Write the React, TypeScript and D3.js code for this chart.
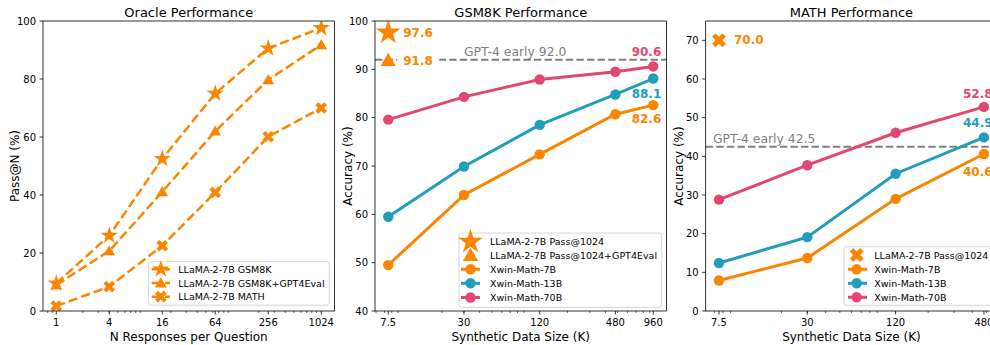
import React from 'react';
import * as d3 from 'd3';

// ---------- data ----------
const oracleN = [1, 4, 16, 64, 256, 1024];
const oracleTickLabels = ['1', '4', '16', '64', '256', '1024'];
const oracleGsm8k = [9.5, 26, 52.5, 75, 90.6, 97.6];
const oracleGsm8kGpt4 = [9.0, 20.7, 41.1, 62.0, 79.7, 91.8];
const oracleMath = [1.7, 8.4, 22.5, 40.9, 60.1, 70.0];
const oracleYTicks = [0, 20, 40, 60, 80, 100];

const gsmSizes = [7.5, 30, 120, 480, 960];
const gsmTickLabels = ['7.5', '30', '120', '480', '960'];
const gsm7b = [49.5, 64.0, 72.4, 80.7, 82.6];
const gsm13b = [59.5, 69.9, 78.5, 84.8, 88.1];
const gsm70b = [79.6, 84.3, 87.9, 89.5, 90.6];
const gsmPass1024 = 97.6;
const gsmPass1024Eval = 91.8;
const gsmGpt4 = 92.0;
const gsmYTicks = [40, 50, 60, 70, 80, 90, 100];

const mathSizes = [7.5, 30, 120, 480];
const mathTickLabels = ['7.5', '30', '120', '480'];
const math7b = [7.9, 13.7, 29.0, 40.6];
const math13b = [12.4, 19.1, 35.5, 44.9];
const math70b = [28.8, 37.7, 46.1, 52.8];
const mathPass1024 = 70.0;
const mathGpt4 = 42.5;
const mathYTicks = [0, 10, 20, 30, 40, 50, 60, 70];

// ---------- style ----------
const ORANGE = '#fb8500';
const TEAL = '#219ebc';
const PINK = '#e2486f';
const GRAY = '#7f7f7f';
const FONT = 'DejaVu Sans';
const TOP = 21;
const BOTTOM = 311;
const PW = 291.5;

function logX(xs: number[], left: number) {
  const lo = d3.min(xs)!;
  const hi = d3.max(xs)!;
  const m = 0.05 * Math.log2(hi / lo);
  return d3.scaleLog().base(2).domain([lo * Math.pow(2, -m), hi * Math.pow(2, m)]).range([left, left + PW]);
}

function minorTicks(domain: number[]) {
  const out: number[] = [];
  for (let k = -2; k <= 4; k++) {
    for (let s = 2; s <= 9; s++) {
      const v = s * Math.pow(10, k);
      if (v >= domain[0] && v <= domain[1]) out.push(v);
    }
  }
  return out;
}

function sym(type: any, size: number) {
  return d3.symbol().type(type).size(size)()!;
}

function Marker({ kind, x, y, color, size }: any) {
  if (kind === 'star') return <path d={sym(d3.symbolStar, size)} transform={`translate(${x},${y})`} fill={color} />;
  if (kind === 'tri') return <path d={sym(d3.symbolTriangle, size)} transform={`translate(${x},${y + 1})`} fill={color} />;
  if (kind === 'x') return <path d={sym(d3.symbolCross, size)} transform={`translate(${x},${y}) rotate(45)`} fill={color} />;
  return <circle cx={x} cy={y} r={Math.sqrt(size / Math.PI)} fill={color} />;
}

function Frame({ x, y, title, xLabel, yLabel, yLabelX, ticks, tickLabels, yTicks, clipId, children }: any) {
  const [l, r] = x.range();
  const dom = x.domain();
  return (
    <g>
      <defs>
        <clipPath id={clipId}>
          <rect x={l} y={TOP} width={r - l} height={BOTTOM - TOP} />
        </clipPath>
      </defs>
      <g clipPath={`url(#${clipId})`}>{children}</g>
      <rect x={l} y={TOP} width={r - l} height={BOTTOM - TOP} fill="none" stroke="#000" strokeWidth={0.8} />
      {yTicks.map((t: number) => (
        <g key={'y' + t}>
          <line x1={l - 3.5} x2={l} y1={y(t)} y2={y(t)} stroke="#000" strokeWidth={0.8} />
          <text x={l - 7} y={y(t)} textAnchor="end" dominantBaseline="central" fontSize={10} fontFamily={FONT}>{t}</text>
        </g>
      ))}
      {minorTicks(dom).map((t: number) => (
        <line key={'m' + t} x1={x(t)} x2={x(t)} y1={BOTTOM} y2={BOTTOM + 2} stroke="#000" strokeWidth={0.6} />
      ))}
      {ticks.map((t: number, i: number) => (
        <g key={'x' + t}>
          <line x1={x(t)} x2={x(t)} y1={BOTTOM} y2={BOTTOM + 3.5} stroke="#000" strokeWidth={0.8} />
          <text x={x(t)} y={326} textAnchor="middle" fontSize={10} fontFamily={FONT}>{tickLabels[i]}</text>
        </g>
      ))}
      <text x={(l + r) / 2} y={17} textAnchor="middle" fontSize={13} fontFamily={FONT}>{title}</text>
      <text x={(l + r) / 2} y={340.5} textAnchor="middle" fontSize={12} fontFamily={FONT}>{xLabel}</text>
      <text transform={`translate(${yLabelX},${(TOP + BOTTOM) / 2}) rotate(-90)`} textAnchor="middle" dominantBaseline="central" fontSize={12} fontFamily={FONT}>{yLabel}</text>
    </g>
  );
}

function Legend({ x, y, w, h, items, lineX1, lineX2, markX, textX, rows }: any) {
  return (
    <g>
      <rect x={x} y={y} width={w} height={h} rx={2.5} fill="#fff" fillOpacity={0.8} stroke="#cccccc" strokeWidth={0.8} />
      {items.map((it: any, i: number) => (
        <g key={i}>
          {it.line && (
            <line x1={lineX1} x2={lineX2} y1={rows[i]} y2={rows[i]} stroke={it.color} strokeWidth={it.dash ? 2.5 : 3} strokeDasharray={it.dash ? '9.25 4' : undefined} />
          )}
          <Marker kind={it.kind} x={markX} y={rows[i]} color={it.color} size={it.size} />
          <text x={textX} y={rows[i]} dominantBaseline="central" fontSize={9.5} fontFamily={FONT}>{it.label}</text>
        </g>
      ))}
    </g>
  );
}

export default function App() {
  // ---- panel 1 ----
  const x1 = logX(oracleN, 43);
  const y1 = d3.scaleLinear().domain([0, 100]).range([BOTTOM, TOP]);
  const line1 = d3.line<number>().x((_, i) => x1(oracleN[i])).y((v) => y1(v));
  const oracleSeries = [
    { vals: oracleGsm8k, kind: 'star', size: 95, label: 'LLaMA-2-7B GSM8K' },
    { vals: oracleGsm8kGpt4, kind: 'tri', size: 60, label: 'LLaMA-2-7B GSM8K+GPT4Eval' },
    { vals: oracleMath, kind: 'x', size: 85, label: 'LLaMA-2-7B MATH' },
  ];

  // ---- panel 2 ----
  const x2 = logX(gsmSizes, 375);
  const y2 = d3.scaleLinear().domain([40, 100]).range([BOTTOM, TOP]);
  const line2 = d3.line<number>().x((_, i) => x2(gsmSizes[i])).y((v) => y2(v));
  const gsmSeries = [
    { vals: gsm7b, color: ORANGE, label: 'Xwin-Math-7B', dy: 14, dx: -21.6 },
    { vals: gsm13b, color: TEAL, label: 'Xwin-Math-13B', dy: 15, dx: -21.6 },
    { vals: gsm70b, color: PINK, label: 'Xwin-Math-70B', dy: -14, dx: -21.6 },
  ];

  // ---- panel 3 ----
  const x3 = logX(mathSizes, 705.7);
  const y3 = d3.scaleLinear().domain([0, 75]).range([BOTTOM, TOP]);
  const line3 = d3.line<number>().x((_, i) => x3(mathSizes[i])).y((v) => y3(v));
  const mathSeries = [
    { vals: math7b, color: ORANGE, label: 'Xwin-Math-7B', dy: 18, dx: -21 },
    { vals: math13b, color: TEAL, label: 'Xwin-Math-13B', dy: -14, dx: -21 },
    { vals: math70b, color: PINK, label: 'Xwin-Math-70B', dy: -13, dx: -21 },
  ];

  const [gl, gr] = x2.range();
  const [ml, mr] = x3.range();

  return (
    <svg width={990} height={345} style={{ position: 'absolute', left: 0, top: 0, background: '#fff' }}>
      <rect width={990} height={345} fill="#fff" />
      {/* Panel 1 */}
      <Frame x={x1} y={y1} title="Oracle Performance" xLabel="N Responses per Question" yLabel="Pass@N (%)" yLabelX={15}
        ticks={oracleN} tickLabels={oracleTickLabels} yTicks={oracleYTicks} clipId="c1">
        {oracleSeries.map((s, si) => (
          <g key={si}>
            <path d={line1(s.vals)!} fill="none" stroke={ORANGE} strokeWidth={2.5} strokeDasharray="9.25 4" />
            {s.vals.map((v, i) => (
              <Marker key={i} kind={s.kind} x={x1(oracleN[i])} y={y1(v)} color={ORANGE} size={s.size} />
            ))}
          </g>
        ))}
      </Frame>
      <Legend x={148.3} y={261.7} w={181} h={43.5} rows={[269.3, 283, 296.7]} lineX1={151.7} lineX2={170} markX={160.8} textX={178.3}
        items={oracleSeries.map((s) => ({ ...s, color: ORANGE, line: true, dash: true }))} />

      {/* Panel 2 */}
      <Frame x={x2} y={y2} title="GSM8K Performance" xLabel="Synthetic Data Size (K)" yLabel="Accuracy (%)" yLabelX={348}
        ticks={gsmSizes} tickLabels={gsmTickLabels} yTicks={gsmYTicks} clipId="c2">
        <line x1={gl} x2={gr} y1={y2(gsmGpt4)} y2={y2(gsmGpt4)} stroke={GRAY} strokeWidth={2} strokeDasharray="7.4 3.2" />
        <text x={464} y={y2(gsmGpt4) - 4} fontSize={12.4} fontFamily={FONT} fill={GRAY}>{`GPT-4 early ${gsmGpt4.toFixed(1)}`}</text>
        {gsmSeries.map((s, si) => (
          <g key={si}>
            <path d={line2(s.vals)!} fill="none" stroke={s.color} strokeWidth={3} />
            {s.vals.map((v, i) => (
              <circle key={i} cx={x2(gsmSizes[i])} cy={y2(v)} r={5.2} fill={s.color} />
            ))}
          </g>
        ))}
        <rect x={x2(gsmSizes[0]) + 9} y={y2(gsmPass1024Eval) - 7} width={42} height={14} fill="#fff" />
        <Marker kind="star" x={x2(gsmSizes[0])} y={y2(gsmPass1024)} color={ORANGE} size={190} />
        <Marker kind="tri" x={x2(gsmSizes[0])} y={y2(gsmPass1024Eval)} color={ORANGE} size={100} />
      </Frame>
      <text x={x2(gsmSizes[0]) + 15} y={y2(gsmPass1024)} dominantBaseline="central" fontSize={12} fontWeight="bold" fontFamily={FONT} fill={ORANGE}>{gsmPass1024.toFixed(1)}</text>
      <text x={x2(gsmSizes[0]) + 15} y={y2(gsmPass1024Eval)} dominantBaseline="central" fontSize={12} fontWeight="bold" fontFamily={FONT} fill={ORANGE}>{gsmPass1024Eval.toFixed(1)}</text>
      {gsmSeries.map((s, si) => {
        const last = s.vals.length - 1;
        return (
          <text key={si} x={x2(gsmSizes[last]) + s.dx} y={y2(s.vals[last]) + s.dy} dominantBaseline="central" fontSize={12} fontWeight="bold" fontFamily={FONT} fill={s.color}>
            {s.vals[last].toFixed(1)}
          </text>
        );
      })}
      <Legend x={459} y={233} w={202.7} h={74.3} rows={[241.7, 255.5, 269.3, 283.3, 297.5]} lineX1={461} lineX2={480} markX={470.5} textX={490}
        items={[
          { kind: 'star', size: 190, color: ORANGE, label: 'LLaMA-2-7B Pass@1024', line: false },
          { kind: 'tri', size: 100, color: ORANGE, label: 'LLaMA-2-7B Pass@1024+GPT4Eval', line: false },
          ...gsmSeries.map((s) => ({ kind: 'circle', size: 85, color: s.color, label: s.label, line: true })),
        ]} />

      {/* Panel 3 */}
      <Frame x={x3} y={y3} title="MATH Performance" xLabel="Synthetic Data Size (K)" yLabel="Accuracy (%)" yLabelX={678.7}
        ticks={mathSizes} tickLabels={mathTickLabels} yTicks={mathYTicks} clipId="c3">
        <line x1={ml} x2={mr} y1={y3(mathGpt4)} y2={y3(mathGpt4)} stroke={GRAY} strokeWidth={2} strokeDasharray="7.4 3.2" />
        <text x={713} y={y3(mathGpt4) - 4} fontSize={12.4} fontFamily={FONT} fill={GRAY}>{`GPT-4 early ${mathGpt4.toFixed(1)}`}</text>
        {mathSeries.map((s, si) => (
          <g key={si}>
            <path d={line3(s.vals)!} fill="none" stroke={s.color} strokeWidth={3} />
            {s.vals.map((v, i) => (
              <circle key={i} cx={x3(mathSizes[i])} cy={y3(v)} r={5.2} fill={s.color} />
            ))}
          </g>
        ))}
        <Marker kind="x" x={x3(mathSizes[0])} y={y3(mathPass1024)} color={ORANGE} size={120} />
      </Frame>
      <text x={x3(mathSizes[0]) + 15} y={y3(mathPass1024)} dominantBaseline="central" fontSize={12} fontWeight="bold" fontFamily={FONT} fill={ORANGE}>{mathPass1024.toFixed(1)}</text>
      {mathSeries.map((s, si) => {
        const last = s.vals.length - 1;
        return (
          <text key={si} x={x3(mathSizes[last]) + s.dx} y={y3(s.vals[last]) + s.dy} dominantBaseline="central" fontSize={12} fontWeight="bold" fontFamily={FONT} fill={s.color}>
            {s.vals[last].toFixed(1)}
          </text>
        );
      })}
      <Legend x={844} y={246.7} w={150} h={58.6} rows={[255, 269.3, 283.3, 297.3]} lineX1={848} lineX2={867} markX={856.7} textX={874.3}
        items={[
          { kind: 'x', size: 120, color: ORANGE, label: 'LLaMA-2-7B Pass@1024', line: false },
          ...mathSeries.map((s) => ({ kind: 'circle', size: 85, color: s.color, label: s.label, line: true })),
        ]} />
    </svg>
  );
}
